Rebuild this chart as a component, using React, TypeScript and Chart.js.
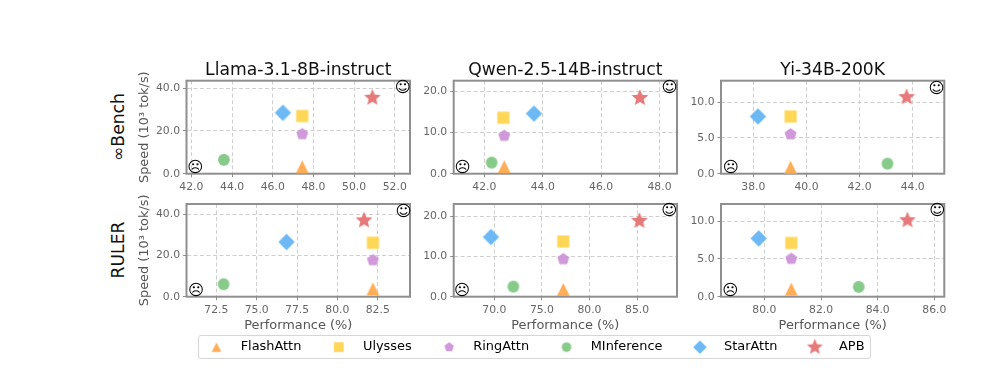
import React, { useEffect, useRef } from "react";
import { Chart, registerables } from "chart.js";

Chart.register(...registerables);

const seriesNames = ["FlashAttn", "Ulysses", "RingAttn", "MInference", "StarAttn", "APB"];
const seriesColors = ["#FFA94D", "#FFD54F", "#CE93D8", "#81C784", "#64B5F6", "#E57373"];
const seriesShapes = ["triangle", "square", "pentagon", "circle", "diamond", "star"];
const plotMarkerSizes = [6.4, 6.1, 6.3, 5.9, 8.2, 8.8];
const legendMarkerSizes = [4.8, 4.9, 5, 4.8, 6.8, 8.4];

const modelTitles = ["Llama-3.1-8B-instruct", "Qwen-2.5-14B-instruct", "Yi-34B-200K"];
const rowLabels = ["∞Bench", "RULER"];

const infLlamaX = [47.45, 47.45, 47.45, 43.6, 46.5, 50.9];
const infLlamaY = [3.2, 27, 18.5, 6.5, 28.5, 35.5];
const infQwenX = [42.68, 42.65, 42.68, 42.25, 43.7, 47.33];
const infQwenY = [1.7, 13.6, 9.2, 2.7, 14.6, 18.4];
const infYiX = [39.4, 39.4, 39.4, 43.05, 38.17, 43.77];
const infYiY = [0.9, 8.0, 5.5, 1.4, 8.0, 10.7];
const rulerLlamaX = [82.2, 82.2, 82.2, 72.95, 76.85, 81.65];
const rulerLlamaY = [3.8, 26.3, 17.8, 6.1, 26.7, 37.2];
const rulerQwenX = [77.25, 77.25, 77.25, 72, 69.65, 85.25];
const rulerQwenY = [1.8, 13.7, 9.3, 2.5, 14.8, 18.8];
const rulerYiX = [80.95, 80.95, 80.95, 83.33, 79.8, 85.05];
const rulerYiY = [1.0, 7.1, 5.0, 1.3, 7.7, 10.1];

// [sad x, sad y, happy x, happy y]
const faces = [
  [42.2, 3.5, 52.4, 40.5],
  [41.25, 1.8, 48.35, 21],
  [37.15, 1.0, 44.9, 12],
  [71.25, 3.7, 84.1, 42],
  [66.6, 1.8, 88.4, 21.5],
  [78.8, 1.0, 86.1, 11.4],
];

const xRanges = [[41.76, 52.75], [40.95, 48.6], [36.78, 45.19], [70.65, 84.5], [65.73, 89.2], [78.47, 86.35]];
const yMaxes = [43.5, 22.6, 13.0, 45.2, 23.0, 12.25];
const xSteps = [2, 2, 2, 2.5, 5, 2];
const ySteps = [20, 10, 5, 20, 10, 5];

const panelX = [infLlamaX, infQwenX, infYiX, rulerLlamaX, rulerQwenX, rulerYiX];
const panelY = [infLlamaY, infQwenY, infYiY, rulerLlamaY, rulerQwenY, rulerYiY];

const plotLefts = [186.5, 453.7, 721];
const plotRights = [410, 677, 944.3];
const plotTops = [80.7, 204];
const plotBottoms = [173.7, 296.7];
const FONT = "'DejaVu Sans'";

function makeMarker(shape: string, r: number, color: string) {
  const s = Math.ceil(r * 2 + 4);
  const c = document.createElement("canvas");
  c.width = s;
  c.height = s;
  const g = c.getContext("2d")!;
  g.translate(s / 2, s / 2);
  g.fillStyle = color;
  g.globalAlpha = 0.95;
  g.beginPath();
  const poly = (n: number, inner: number) => {
    const count = inner ? n * 2 : n;
    for (let i = 0; i < count; i++) {
      const rad = inner && i % 2 ? r * inner : r;
      const a = -Math.PI / 2 + (i * 2 * Math.PI) / count;
      g.lineTo(rad * Math.cos(a), rad * Math.sin(a));
    }
    g.closePath();
  };
  if (shape === "triangle") {
    g.moveTo(0, -r);
    g.lineTo(r, r);
    g.lineTo(-r, r);
    g.closePath();
  } else if (shape === "square") {
    g.rect(-r, -r, 2 * r, 2 * r);
  } else if (shape === "pentagon") {
    poly(5, 0);
  } else if (shape === "circle") {
    g.arc(0, 0, r, 0, Math.PI * 2);
  } else if (shape === "diamond") {
    poly(4, 0);
  } else {
    poly(5, 0.45);
  }
  g.fill();
  return c;
}

const frameAndFaces = {
  id: "frameAndFaces",
  beforeDatasetsDraw(chart: any) {
    const { ctx, chartArea: a } = chart;
    ctx.save();
    ctx.strokeStyle = "#8f8f8f";
    ctx.lineWidth = 2;
    ctx.strokeRect(a.left, a.top, a.right - a.left, a.bottom - a.top);
    ctx.restore();
  },
  afterDatasetsDraw(chart: any, _a: any, opts: any) {
    const { ctx, scales } = chart;
    ctx.save();
    ctx.fillStyle = "#000";
    ctx.font = `15.5px ${FONT}`;
    ctx.textAlign = "center";
    ctx.textBaseline = "middle";
    const f = opts.face;
    ctx.fillText("☹", scales.x.getPixelForValue(f[0]), scales.y.getPixelForValue(f[1]) + 1.5);
    ctx.fillText("☺", scales.x.getPixelForValue(f[2]), scales.y.getPixelForValue(f[3]) + 1);
    ctx.restore();
  },
};

function Panel({ index }: { index: number }) {
  const ref = useRef<HTMLCanvasElement>(null);
  const col = index % 3;
  const row = index < 3 ? 0 : 1;
  const cellLeft = col === 0 ? 125 : Math.floor(plotLefts[col] - 40);
  const cellRight = Math.ceil(plotRights[col] + 18);
  const cellTop = row === 0 ? 40 : 190;
  const cellBottom = row === 0 ? 200 : 340;
  useEffect(() => {
    const yWidth = plotLefts[col] - cellLeft;
    const xHeight = row === 0 ? 20 : 38;
    const chart = new Chart(ref.current!, {
      type: "scatter",
      data: {
        datasets: seriesNames.map((name, i) => ({
          label: name,
          data: panelX[index].map((x, j) => ({ x, y: panelY[index][j] })).filter((_, j) => j === i),
          pointStyle: makeMarker(seriesShapes[i], plotMarkerSizes[i], seriesColors[i]),
          pointRadius: 6,
          clip: false,
          order: 5 - i,
        })),
      },
      options: {
        animation: false,
        responsive: false,
        events: [],
        layout: {
          padding: {
            left: 0,
            right: cellRight - plotRights[col],
            top: plotTops[row] - cellTop - (row === 0 ? 20.64 : 0),
            bottom: cellBottom - plotBottoms[row] - xHeight,
          },
        },
        plugins: {
          legend: { display: false },
          tooltip: { enabled: false },
          title: {
            display: row === 0,
            text: modelTitles[col],
            fullSize: false,
            color: "#111",
            padding: 0,
            font: { family: FONT, size: 17.2, weight: "normal", lineHeight: 1.2 },
          },
          frameAndFaces: { face: faces[index] },
        } as any,
        scales: {
          x: {
            type: "linear",
            min: xRanges[index][0],
            max: xRanges[index][1],
            afterFit: (s: any) => { s.height = xHeight; },
            border: { display: false, dash: [4, 2.5] },
            grid: { color: "#cfcfcf", tickColor: "#8c8c8c", tickLength: 3.5, tickBorderDash: [] },
            title: {
              display: row === 1,
              text: "Performance (%)",
              color: "#555",
              padding: { top: 0, bottom: 1 },
              font: { family: FONT, size: 12.9, lineHeight: 1.2 },
            },
            ticks: {
              stepSize: xSteps[index],
              includeBounds: false,
              autoSkip: false,
              maxRotation: 0,
              padding: 3.5,
              color: "#666",
              font: { family: FONT, size: 10.8 },
              callback: (v: any) => Number(v).toFixed(1),
            },
          },
          y: {
            type: "linear",
            min: 0,
            max: yMaxes[index],
            afterFit: (s: any) => { s.width = yWidth; },
            border: { display: false, dash: [4, 2.5] },
            grid: { color: "#cfcfcf", tickColor: "#8c8c8c", tickLength: 3.5, tickBorderDash: [] },
            title: {
              display: col === 0,
              text: "Speed (10³ tok/s)",
              color: "#555",
              padding: { top: 11.5, bottom: 0 },
              font: { family: FONT, size: 12.9, lineHeight: 1.2 },
            },
            ticks: {
              stepSize: ySteps[index],
              includeBounds: false,
              autoSkip: false,
              padding: 3,
              color: "#666",
              font: { family: FONT, size: 10.8 },
              callback: (v: any) => Number(v).toFixed(1),
            },
          },
        },
      } as any,
      plugins: [frameAndFaces],
    });
    return () => chart.destroy();
  }, []);
  return (
    <canvas
      ref={ref}
      width={cellRight - cellLeft}
      height={cellBottom - cellTop}
      style={{ position: "absolute", left: cellLeft, top: cellTop, width: cellRight - cellLeft, height: cellBottom - cellTop }}
    />
  );
}

function LegendStrip() {
  const ref = useRef<HTMLCanvasElement>(null);
  useEffect(() => {
    const markers = seriesNames.map((_, i) => makeMarker(seriesShapes[i], legendMarkerSizes[i], seriesColors[i]));
    const chart = new Chart(ref.current!, {
      type: "scatter",
      data: { datasets: seriesNames.map((name) => ({ label: name, data: [] })) },
      options: {
        animation: false,
        responsive: false,
        events: [],
        layout: { padding: 0 },
        scales: { x: { display: false }, y: { display: false } },
        plugins: {
          tooltip: { enabled: false },
          legend: {
            display: true,
            position: "top",
            align: "start",
            labels: {
              usePointStyle: true,
              pointStyleWidth: 35.5,
              padding: 19.7,
              color: "#222",
              font: { family: FONT, size: 12.9 },
              generateLabels: () =>
                seriesNames.map((text, i) => ({
                  text,
                  pointStyle: markers[i],
                  fillStyle: seriesColors[i],
                  strokeStyle: seriesColors[i],
                  lineWidth: 0,
                  hidden: false,
                  datasetIndex: i,
                })),
            },
          },
        },
      } as any,
    });
    return () => chart.destroy();
  }, []);
  return (
    <div
      style={{
        position: "absolute",
        left: 198,
        top: 335,
        width: 671,
        height: 22,
        border: "1px solid #d6d6d6",
        borderRadius: 3,
        overflow: "hidden",
        background: "#fff",
      }}
    >
      <canvas ref={ref} width={760} height={90} style={{ position: "absolute", left: -20, top: -15, width: 760, height: 90 }} />
    </div>
  );
}

const rowLabelY = [126.7, 250];

export default function App() {
  return (
    <div style={{ position: "absolute", left: 0, top: 0, width: 997, height: 375, overflow: "hidden", background: "#fff" }}>
      {rowLabels.map((t, i) => (
        <div
          key={t}
          style={{
            position: "absolute",
            left: 118,
            top: rowLabelY[i],
            transform: "translate(-50%,-50%) rotate(-90deg)",
            font: `17.2px ${FONT}`,
            color: "#111",
            whiteSpace: "nowrap",
          }}
        >
          {t}
        </div>
      ))}
      {[0, 1, 2, 3, 4, 5].map((i) => (
        <Panel key={i} index={i} />
      ))}
      <LegendStrip />
    </div>
  );
}
